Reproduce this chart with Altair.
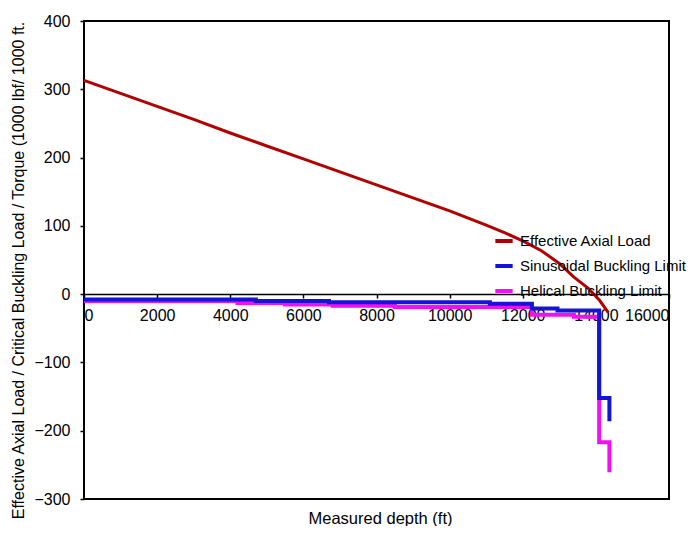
import altair as alt
import pandas as pd

# Effective Axial Load
eal_depth = [0, 1000, 2000, 3000, 4000, 5000, 6000, 7000, 8000, 9000, 10000,
             11000, 11500, 12000, 12500, 13000, 13400, 13800, 14100, 14340]
eal_value = [313, 294, 275, 256, 236, 217, 198, 179, 160, 141, 122,
             101, 90, 78, 64, 45, 25, 8, -9, -27]

# Sinusoidal Buckling Limit (step-after vertices)
sin_depth = [0, 4700, 6700, 11100, 12250, 12950, 14090, 14370]
sin_value = [-8, -10, -12, -14, -21, -24, -152, -186]

# Helical Buckling Limit (step-after vertices)
hel_depth = [0, 4200, 5500, 6800, 8500, 12250, 13400, 14090, 14370]
hel_value = [-10, -13, -15, -17, -19, -30, -33, -217, -261]

series_names = ["Effective Axial Load", "Sinusoidal Buckling Limit", "Helical Buckling Limit"]
series_colors = ["#B00000", "#1414D2", "#F010F0"]

x_ticks = [0, 2000, 4000, 6000, 8000, 10000, 12000, 14000, 16000]
y_ticks = [-300, -200, -100, 0, 100, 200, 300, 400]

df_eal = pd.DataFrame({"depth": eal_depth, "value": eal_value, "series": series_names[0]})
df_sin = pd.DataFrame({"depth": sin_depth, "value": sin_value, "series": series_names[1]})
df_hel = pd.DataFrame({"depth": hel_depth, "value": hel_value, "series": series_names[2]})

FONT = "Liberation Sans"

x_enc = alt.X(
    "depth:Q",
    scale=alt.Scale(domain=[0, 16000], nice=False),
    axis=alt.Axis(
        values=x_ticks, format="d", offset=-205, grid=False,
        domainColor="black", domainWidth=1.5, tickColor="black", tickSize=4, tickWidth=1.5,
        labelFontSize=16, labelColor="black", labelPadding=9, labelFont=FONT,
        title="Measured depth (ft)", titleFontSize=16.5, titleFontWeight="normal", titleFont=FONT,
        titleColor="black", titleX=296, titleY=224, titleBaseline="middle", titleAlign="center",
    ),
)
y_enc = alt.Y(
    "value:Q",
    scale=alt.Scale(domain=[-300, 400], nice=False),
    axis=alt.Axis(
        values=y_ticks, format="d", grid=False, domain=False,
        tickColor="black", tickSize=4, tickWidth=1.5,
        labelFontSize=16, labelColor="black", labelPadding=10, labelFont=FONT,
        title="Effective Axial Load / Critical Buckling Load / Torque (1000 lbf/ 1000 ft.",
        titleFontSize=16, titleFontWeight="normal", titleFont=FONT, titleColor="black",
        titleX=-66, titleY=249, titleAngle=-90, titleAlign="center", titleBaseline="middle",
    ),
)
color_enc = alt.Color(
    "series:N",
    scale=alt.Scale(domain=series_names, range=series_colors),
    legend=alt.Legend(
        title=None, orient="none", legendX=409, legendY=209, padding=0,
        symbolType="stroke", symbolSize=300, symbolStrokeWidth=4,
        labelFontSize=15, labelFont=FONT, labelColor="black", labelOffset=5,
        rowPadding=6, labelLimit=400,
    ),
)

hel = alt.Chart(df_hel).mark_line(interpolate="step-after", strokeWidth=4).encode(
    x=x_enc, y=y_enc, color=color_enc)
sin = alt.Chart(df_sin).mark_line(interpolate="step-after", strokeWidth=4).encode(
    x=x_enc, y=y_enc, color=color_enc)
eal = alt.Chart(df_eal).mark_line(strokeWidth=3).encode(
    x=x_enc, y=y_enc, color=color_enc)

chart = alt.layer(hel, sin, eal).properties(
    width=585, height=478,
    autosize=alt.AutoSizeParams(type="none"),
    padding={"left": 76, "top": 13, "right": 20, "bottom": 27},
    background="white",
).configure_view(stroke="black", strokeWidth=2)

chart.save("out.html", embed_options={"renderer": "svg", "actions": False})
